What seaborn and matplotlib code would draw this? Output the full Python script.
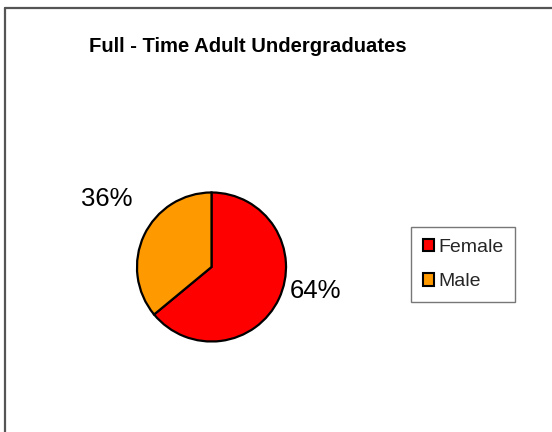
import matplotlib
matplotlib.use("Agg")
import matplotlib.pyplot as plt
import seaborn as sns
from matplotlib.patches import Patch
from matplotlib.lines import Line2D

categories = ["Female", "Male"]
values = [64, 36]
colors = ["#FF0000", "#FF9900"]
title = "Full - Time Adult Undergraduates"

sns.set_theme(style="white")
plt.rcParams["font.family"] = ["Liberation Sans", "DejaVu Sans"]

W, H = 552, 432
fig = plt.figure(figsize=(W / 100, H / 100), dpi=100)
fig.patch.set_facecolor("white")

# frame lines (left and top)
fig.add_artist(Line2D([5.5 / W, 5.5 / W], [0, 1 - 8 / H], color="#555555", lw=1.6, transform=fig.transFigure))
fig.add_artist(Line2D([5.5 / W, 1], [1 - 8 / H, 1 - 8 / H], color="#555555", lw=1.6, transform=fig.transFigure))

cx, cy, r = 211.5, 267, 76
ax = fig.add_axes([(cx - r) / W, (H - cy - r) / H, 2 * r / W, 2 * r / H])
wedges, _ = ax.pie(values, colors=colors, startangle=90, counterclock=False,
                   wedgeprops=dict(edgecolor="black", linewidth=1.6), radius=1)
ax.set_xlim(-1.02, 1.02)
ax.set_ylim(-1.02, 1.02)
ax.set_axis_off()

label_pos = [(1.39, -0.32), (-1.40, 0.91)]
for v, (x, y) in zip(values, label_pos):
    ax.text(x, y, f"{v}%", ha="center", va="center", fontsize=18.5, color="black", clip_on=False)

fig.text(248 / W, 1 - 47 / H, title, ha="center", va="center", fontsize=14.6, fontweight="bold", color="black")

handles = [Patch(facecolor=c, edgecolor="black", linewidth=1.5) for c in colors]
leg = fig.legend(handles, categories, loc="upper left", bbox_to_anchor=(411 / W, 1 - 227 / H),
                 fontsize=14, frameon=True, fancybox=False, edgecolor="#555555",
                 handlelength=0.6, handleheight=0.6, handletextpad=0.2, labelspacing=0.9,
                 borderpad=0.6, borderaxespad=0)
leg.get_frame().set_linewidth(1.0)

fig.savefig("out.png", dpi=100, facecolor="white")
